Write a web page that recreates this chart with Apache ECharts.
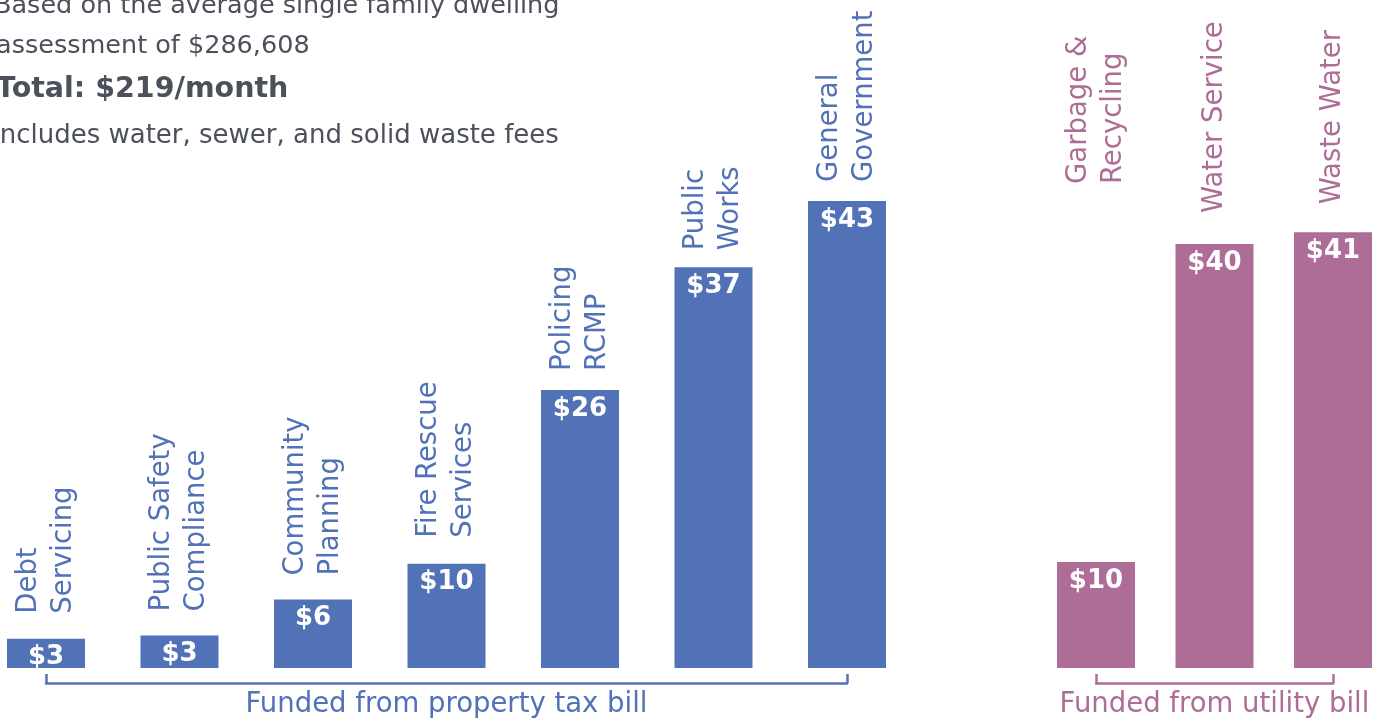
<!DOCTYPE html>
<html>
<head>
<meta charset="utf-8">
<script src="https://cdn.jsdelivr.net/npm/echarts@6/dist/echarts.min.js"></script>
<style>
html,body{margin:0;padding:0;background:#fff;}
#chart{width:1387px;height:721px;}
</style>
</head>
<body>
<div id="chart"></div>
<script>
// ---- data (monthly $; labels show rounded values) ----
const propertyCategories = ['Debt\nServicing', 'Public Safety\nCompliance', 'Community\nPlanning', 'Fire Rescue\nServices', 'Policing\nRCMP', 'Public\nWorks', 'General\nGovernment'];
const propertyValues = [2.7, 3.0, 6.3, 9.6, 25.6, 36.9, 43.0];
const utilityCategories = ['Garbage &\nRecycling', 'Water Service', 'Waste Water'];
const utilityValues = [10.0, 40.0, 41.1];
const groupNames = ['Funded from property tax bill', 'Funded from utility bill'];
const titleLines = ['Based on the average single family dwelling', 'assessment of $286,608', 'Total: $219/month', 'Includes water, sewer, and solid waste fees'];

// ---- styles ----
const FONT = 'DejaVu Sans';
const BLUE = '#5172b7';
const PURPLE = '#ad6d96';
const GRAY = '#4b505b';

const chart = echarts.init(document.getElementById('chart'), null, {renderer: 'canvas'});

function makeXAxis(gridIndex, cats, color, name) {
  const last = cats.length - 1;
  return {
    type: 'category', gridIndex: gridIndex, data: cats, boundaryGap: false,
    offset: 15,
    axisLine: {show: true, onZero: false, lineStyle: {color: color, width: 2.5}},
    axisTick: {show: true, inside: true, length: 9, lineStyle: {color: color, width: 2.5},
      interval: function (i) { return i === 0 || i === last; }},
    axisLabel: {show: false},
    splitLine: {show: false},
    name: name, nameLocation: 'middle', nameGap: 8,
    nameTextStyle: {color: color, fontSize: 27.5, fontFamily: FONT, verticalAlign: 'top'}
  };
}
function makeYAxis(gridIndex) {
  return {type: 'value', gridIndex: gridIndex, min: 0, max: 50, show: false, splitLine: {show: false}};
}
function nameSeries(idx, cats, vals, color, distances) {
  return {
    type: 'bar', xAxisIndex: idx, yAxisIndex: idx, barWidth: 78, clip: false, silent: true,
    itemStyle: {color: color},
    data: vals.map(function (v, i) {
      return {value: v, label: {distance: distances[i]}};
    }),
    label: {
      show: true, position: 'top', rotate: 90, align: 'left', verticalAlign: 'middle',
      color: color, fontSize: 27.5, lineHeight: 35, fontFamily: FONT,
      formatter: function (p) { return cats[p.dataIndex]; }
    }
  };
}
function valueSeries(idx, vals) {
  return {
    type: 'bar', xAxisIndex: idx, yAxisIndex: idx, barWidth: 78, barGap: '-100%', clip: false, silent: true,
    itemStyle: {color: 'rgba(0,0,0,0)'},
    data: vals,
    label: {
      show: true, position: 'insideTop', distance: 6,
      color: '#ffffff', fontSize: 26, fontWeight: 'bold', fontFamily: FONT,
      formatter: function (p) { return '$' + Math.round(p.value); }
    }
  };
}

const option = {
  animation: false,
  backgroundColor: '#ffffff',
  grid: [
    {left: 46, right: 540, top: 125, bottom: 53, outerBoundsMode: 'none', containLabel: false},
    {left: 1096, right: 54, top: 138, bottom: 53, outerBoundsMode: 'none', containLabel: false}
  ],
  xAxis: [
    makeXAxis(0, propertyCategories, BLUE, groupNames[0]),
    makeXAxis(1, utilityCategories, PURPLE, groupNames[1])
  ],
  yAxis: [makeYAxis(0), makeYAxis(1)],
  graphic: [
    {type: 'text', left: -6, top: -7, style: {text: titleLines[0], fill: GRAY, font: '25.5px "' + FONT + '"'}},
    {type: 'text', left: -4, top: 33, style: {text: titleLines[1], fill: GRAY, font: '25.5px "' + FONT + '"'}},
    {type: 'text', left: -4, top: 75, style: {text: titleLines[2], fill: GRAY, font: 'bold 28.5px "' + FONT + '"'}},
    {type: 'text', left: -8, top: 123, style: {text: titleLines[3], fill: GRAY, font: '26px "' + FONT + '"'}}
  ],
  series: [
    nameSeries(0, propertyCategories, propertyValues, BLUE, [25, 24, 24, 26, 19, 17, 19]),
    valueSeries(0, propertyValues),
    nameSeries(1, utilityCategories, utilityValues, PURPLE, [378, 31, 28]),
    valueSeries(1, utilityValues)
  ]
};
chart.setOption(option);
</script>
</body>
</html>
